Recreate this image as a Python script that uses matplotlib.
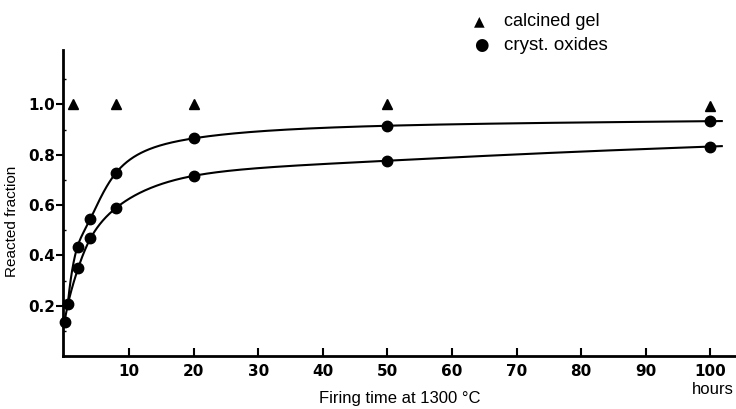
import numpy as np
import matplotlib
matplotlib.use("Agg")
import matplotlib.pyplot as plt

# data
gel_t = [1.3, 8, 20, 50, 100]
gel_f = [1.0, 1.0, 1.0, 1.0, 0.995]

upper_t = [0.5, 2, 4, 8, 20, 50, 100]
upper_f = [0.208, 0.435, 0.545, 0.729, 0.865, 0.915, 0.933]

lower_t = [0, 2.1, 4, 8, 20, 50, 100]
lower_f = [0.136, 0.349, 0.467, 0.589, 0.716, 0.776, 0.832]

xticks = [10, 20, 30, 40, 50, 60, 70, 80, 90, 100]
yticks = [0.2, 0.4, 0.6, 0.8, 1.0]
ylabels = ["0.2", "0.4", "0.6", "0.8", "1.0"]


def spline(x, y, xn):
    # natural cubic spline through the measured points
    x = np.asarray(x, float)
    y = np.asarray(y, float)
    n = len(x)
    h = np.diff(x)
    A = np.zeros((n, n))
    b = np.zeros(n)
    A[0, 0] = A[-1, -1] = 1
    for i in range(1, n - 1):
        A[i, i - 1] = h[i - 1]
        A[i, i] = 2 * (h[i - 1] + h[i])
        A[i, i + 1] = h[i]
        b[i] = 6 * ((y[i + 1] - y[i]) / h[i] - (y[i] - y[i - 1]) / h[i - 1])
    M = np.linalg.solve(A, b)
    idx = np.clip(np.searchsorted(x, xn) - 1, 0, n - 2)
    x0, x1 = x[idx], x[idx + 1]
    hh = h[idx]
    return (M[idx] * (x1 - xn) ** 3 / (6 * hh) + M[idx + 1] * (xn - x0) ** 3 / (6 * hh)
            + (y[idx] / hh - M[idx] * hh / 6) * (x1 - xn)
            + (y[idx + 1] / hh - M[idx + 1] * hh / 6) * (xn - x0))


fig = plt.figure(figsize=(7.36, 4.09), dpi=100)
ax = fig.add_axes([63.3 / 736, 1 - 356 / 409, 1 - 63.3 / 736, (356 - 50) / 409])

for tt, ff in [(upper_t, upper_f), (lower_t, lower_f)]:
    # interpolate on a log time scale so the rise stays smooth
    u = np.log1p(np.asarray(tt, float))
    un = np.linspace(u[0], u[-1], 800)
    xs = np.expm1(un)
    ys = spline(u, ff, un)
    # short run-out beyond the last point, as in the original
    slope = (ff[-1] - ff[-2]) / (tt[-1] - tt[-2])
    xs = np.append(xs, tt[-1] + 1.8)
    ys = np.append(ys, ff[-1] + slope * 1.8)
    ax.plot(xs, ys, color="black", lw=1.5, zorder=2)
    ax.plot(tt, ff, "o", color="black", ms=7.5, zorder=3, clip_on=False)

ax.plot(gel_t, gel_f, "^", color="black", ms=7, zorder=3, clip_on=False)

ax.set_xlim(-0.2, 104)
ax.set_ylim(0, 1.216)
ax.spines["top"].set_visible(False)
ax.spines["right"].set_visible(False)
ax.spines["left"].set_linewidth(2)
ax.spines["bottom"].set_linewidth(2)

ax.set_xticks(xticks)
ax.set_xticklabels([str(v) for v in xticks], fontsize=11, fontweight="bold",
                   family="Liberation Sans Narrow")
ax.set_yticks(yticks)
ax.set_yticklabels(ylabels, fontsize=11, fontweight="bold",
                   family="Liberation Sans Narrow")
ax.set_yticks([0.1, 0.3, 0.5, 0.7, 0.9, 1.1], minor=True)
ax.tick_params(axis="x", direction="in", length=6, width=1.5, pad=6)
ax.tick_params(axis="y", direction="out", length=5, width=1.5, pad=1)
ax.tick_params(axis="y", which="minor", direction="in", length=2, width=1)

ax.set_ylabel("Reacted fraction", fontsize=11, family="Liberation Sans")
ax.yaxis.set_label_coords(-0.066, 0.44)
fig.text(400 / 736, 1 - 398 / 409, "Firing time at 1300 \u00b0C", fontsize=12,
         family="Liberation Sans", ha="center", va="center")
fig.text(713 / 736, 1 - 390 / 409, "hours", fontsize=12,
         family="Liberation Sans", ha="center", va="center")

# legend at the top
fig.text(479 / 736, 1 - 21 / 409, "\u25b2", fontsize=10, ha="center", va="center")
fig.text(504 / 736, 1 - 21 / 409, "calcined gel", fontsize=13,
         family="Liberation Sans", ha="left", va="center")
fig.text(481 / 736, 1 - 45 / 409, "\u25cf", fontsize=12, ha="center", va="center")
fig.text(504 / 736, 1 - 45 / 409, "cryst. oxides", fontsize=13.5,
         family="Liberation Sans", ha="left", va="center")

fig.savefig("out.png", dpi=100)
